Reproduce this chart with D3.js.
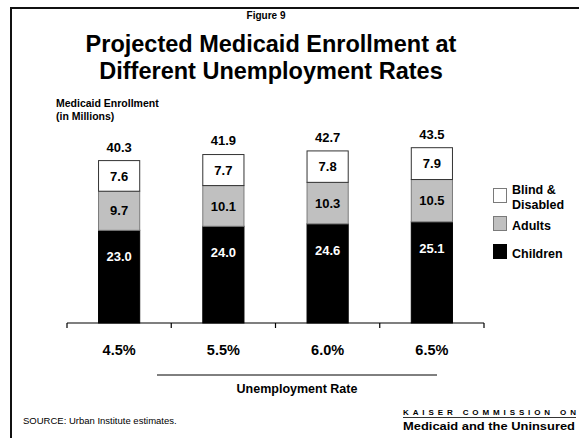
<!DOCTYPE html>
<html>
<head>
<meta charset="utf-8">
<script src="https://cdn.jsdelivr.net/npm/d3@7"></script>
<style>
  html, body { margin: 0; padding: 0; background: #fff; }
  svg { display: block; }
  text { font-family: "Liberation Sans", Arial, Helvetica, sans-serif; }
</style>
</head>
<body>
<svg id="chart" width="579" height="438"></svg>
<script>
// Unemployment-rate scenarios and projected enrollment (millions)
const categories = ["4.5%", "5.5%", "6.0%", "6.5%"];
const children   = [23.0, 24.0, 24.6, 25.1];
const adults     = [9.7, 10.1, 10.3, 10.5];
const disabled   = [7.6, 7.7, 7.8, 7.9];
const totals     = [40.3, 41.9, 42.7, 43.5];

const seriesKeys = ["children", "adults", "disabled"];
// legend entries, top to bottom
const legendKeys = ["disabled", "adults", "children"];
const legendText = [["Blind &", "Disabled"], ["Adults"], ["Children"]];

const rows = categories.map((c, i) => ({
  cat: c, children: children[i], adults: adults[i], disabled: disabled[i], total: totals[i]
}));

const fills   = { children: "#000000", adults: "#c0c0c0", disabled: "#ffffff" };
const strokes = { children: "#000000", adults: "#7a7a7a", disabled: "#333333" };

const svg = d3.select("#chart");

// slide frame
svg.append("path")
  .attr("d", "M11,440 L11,8 L581,8")
  .attr("fill", "none").attr("stroke", "#111").attr("stroke-width", 2);

// headings
svg.append("text").attr("x", 266).attr("y", 18.5).attr("text-anchor", "middle")
  .attr("font-size", 10).attr("font-weight", "bold").text("Figure 9");
svg.append("text").attr("x", 271).attr("y", 52).attr("text-anchor", "middle")
  .attr("font-size", 23.5).attr("font-weight", "bold").text("Projected Medicaid Enrollment at");
svg.append("text").attr("x", 271).attr("y", 79).attr("text-anchor", "middle")
  .attr("font-size", 23.5).attr("font-weight", "bold").text("Different Unemployment Rates");

svg.append("text").attr("x", 56).attr("y", 107)
  .attr("font-size", 10.5).attr("font-weight", "bold").text("Medicaid Enrollment");
svg.append("text").attr("x", 56).attr("y", 120)
  .attr("font-size", 10.5).attr("font-weight", "bold").text("(in Millions)");

// scales
const x = d3.scaleBand().domain(categories).range([67, 484]).padding(0);
const y = d3.scaleLinear().domain([0, 50]).range([323, 121.5]);
const barW = x.bandwidth() * 0.395;

const stacked = d3.stack().keys(seriesKeys)(rows);

const layers = svg.append("g").selectAll("g").data(stacked).join("g");
layers.selectAll("rect")
  .data(d => d.map(v => ({ key: d.key, v })))
  .join("rect")
  .attr("x", d => x(d.v.data.cat) + (x.bandwidth() - barW) / 2)
  .attr("y", d => y(d.v[1]))
  .attr("width", barW)
  .attr("height", d => y(d.v[0]) - y(d.v[1]))
  .attr("fill", d => fills[d.key])
  .attr("stroke", d => strokes[d.key])
  .attr("stroke-width", 1);

// segment value labels (children label sits near the top of its segment)
layers.selectAll("text")
  .data(d => d.map(v => ({ key: d.key, v })))
  .join("text")
  .attr("x", d => x(d.v.data.cat) + x.bandwidth() / 2)
  .attr("y", d => d.key === "children"
      ? y(d.v[1]) + 31
      : (y(d.v[0]) + y(d.v[1])) / 2 + 4.7)
  .attr("text-anchor", "middle")
  .attr("font-size", 13).attr("font-weight", "bold")
  .attr("fill", d => d.key === "children" ? "#fff" : "#000")
  .text(d => d.v.data[d.key].toFixed(1));

// totals above bars
svg.append("g").selectAll("text").data(rows).join("text")
  .attr("x", d => x(d.cat) + x.bandwidth() / 2)
  .attr("y", d => y(d.total) - 9)
  .attr("text-anchor", "middle")
  .attr("font-size", 13).attr("font-weight", "bold")
  .text(d => d.total.toFixed(1));

// category axis with ticks at band edges
const axisG = svg.append("g").attr("transform", "translate(0,323)");
axisG.append("line").attr("x1", x.range()[0]).attr("x2", x.range()[1])
  .attr("stroke", "#000").attr("stroke-width", 1.2);
const edges = categories.map(c => x(c)).concat([x.range()[1]]);
axisG.selectAll(".tk").data(edges).join("line").attr("class", "tk")
  .attr("x1", d => d).attr("x2", d => d).attr("y1", 0).attr("y2", 5)
  .attr("stroke", "#000").attr("stroke-width", 1.2);
axisG.selectAll(".lbl").data(categories).join("text").attr("class", "lbl")
  .attr("x", d => x(d) + x.bandwidth() / 2).attr("y", 32)
  .attr("text-anchor", "middle")
  .attr("font-size", 14.5).attr("font-weight", "bold").text(d => d);

// axis title with rule above
svg.append("line").attr("x1", 157).attr("x2", 437).attr("y1", 375).attr("y2", 375)
  .attr("stroke", "#000").attr("stroke-width", 1);
svg.append("text").attr("x", 297).attr("y", 393).attr("text-anchor", "middle")
  .attr("font-size", 12.5).attr("font-weight", "bold").text("Unemployment Rate");

// legend
const legendBoxY  = [188, 216, 244];
const legendTextY = [[193.5, 208.5], [229.5], [257.5]];
const lg = svg.append("g");
legendKeys.forEach((k, i) => {
  lg.append("rect").attr("x", 493.5).attr("y", legendBoxY[i] + 0.5).attr("width", 13).attr("height", 14)
    .attr("fill", fills[k]).attr("stroke", k === "children" ? "#000" : "#7a7a7a").attr("stroke-width", 1);
  legendText[i].forEach((t, j) => {
    lg.append("text").attr("x", 512).attr("y", legendTextY[i][j])
      .attr("font-size", 12.5).attr("font-weight", "bold").text(t);
  });
});

// footer
svg.append("text").attr("x", 23).attr("y", 423.5)
  .attr("font-size", 9.5).text("SOURCE: Urban Institute estimates.");
svg.append("text").attr("x", 403).attr("y", 415)
  .attr("font-family", "'Liberation Serif', 'Times New Roman', serif")
  .attr("font-size", 8).attr("font-weight", "bold")
  .attr("textLength", 173).attr("lengthAdjust", "spacing")
  .text("KAISER COMMISSION ON");
svg.append("line").attr("x1", 403).attr("x2", 576).attr("y1", 417.5).attr("y2", 417.5)
  .attr("stroke", "#000").attr("stroke-width", 0.8);
svg.append("text").attr("x", 403).attr("y", 429.5)
  .attr("font-size", 11.5).attr("font-weight", "bold")
  .attr("textLength", 172).attr("lengthAdjust", "spacingAndGlyphs")
  .text("Medicaid and the Uninsured");
</script>
</body>
</html>
